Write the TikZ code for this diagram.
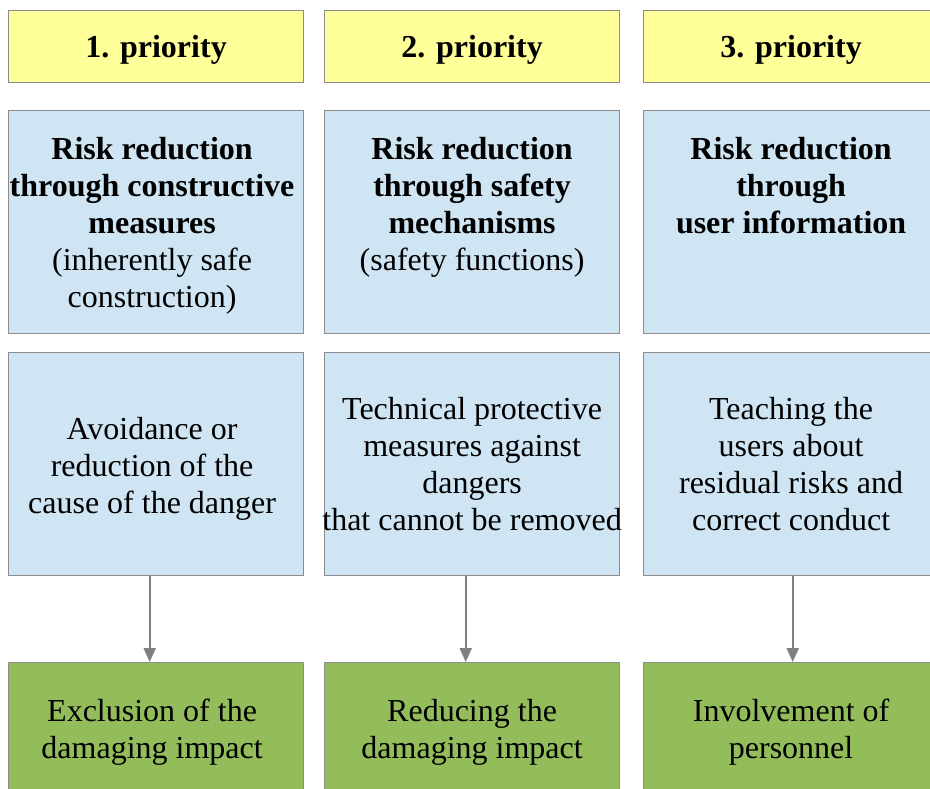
\documentclass[tikz,border=0pt]{standalone}
\usepackage{fontspec}
\setmainfont{Liberation Serif}
\usetikzlibrary{arrows.meta}
\definecolor{yel}{HTML}{FFFF99}
\definecolor{lblue}{HTML}{CFE5F3}
\definecolor{lgreen}{HTML}{93BC5B}
\definecolor{bord}{HTML}{8C8C8C}
\definecolor{arr}{HTML}{808080}
\newcommand\ls{\rule[-0.216em]{0pt}{1.107em}}
\tikzset{
  box/.style={draw=bord, line width=1.2pt, anchor=north west, inner sep=0pt,
    minimum width=295pt, align=center, font=\fontsize{32}{37}\selectfont},
  prio/.style={box, fill=yel, minimum height=72pt, font=\fontsize{32}{37}\selectfont\bfseries},
  risk/.style={box, fill=lblue, minimum height=223pt},
  means/.style={box, fill=lblue, minimum height=223pt},
  result/.style={box, fill=lgreen, minimum height=134pt},
  txt/.style={inner sep=0pt, align=center, font=\fontsize{32}{37}\selectfont},
  link/.style={draw=arr, line width=2pt, -{Triangle[length=14pt,width=12pt]}}
}
\begin{document}
\begin{tikzpicture}[x=1pt,y=-1pt]
\useasboundingbox (0,0) rectangle (930,788);
\clip (0,0) rectangle (930,788);
\fill[white] (0,0) rectangle (930,788);
% priorities
\node[prio] (p1) at (8,10) {\ls 1. priority\ls};
\node[prio] (p2) at (324,10) {\ls 2. priority\ls};
\node[prio] (p3) at (643,10) {\ls 3. priority\ls};
% risk reduction boxes
\node[risk] (r1) at (8,110) {};
\node[risk] (r2) at (324,110) {};
\node[risk] (r3) at (643,110) {};
\node[txt, anchor=north] (t1) at ([xshift=-4pt,yshift=-20.5pt]r1.north) {\ls\textbf{Risk reduction}\\\textbf{through constructive}\\\textbf{measures}\\(inherently safe\\construction)};
\node[txt, anchor=north] (t2) at ([yshift=-20.5pt]r2.north) {\ls\textbf{Risk reduction}\\\textbf{through safety}\\\textbf{mechanisms}\\(safety functions)};
\node[txt, anchor=north] (t3) at ([yshift=-20.5pt]r3.north) {\ls\textbf{Risk reduction}\\\textbf{through}\\\textbf{user information}};
% means
\node[means] (s1) at (8,352) {};
\node[txt] (u1) at ([xshift=-4pt,yshift=-2pt]s1.center) {\ls Avoidance or\\reduction of the\\cause of the danger\ls};
\node[means] (s2) at (324,352) {\ls Technical protective\\measures against\\dangers\\\makebox[280pt]{that cannot be removed}\ls};
\node[means] (s3) at (643,352) {\ls Teaching the\\users about\\residual risks and\\correct conduct\ls};
% results
\node[result] (g1) at (8,662) {};
\node[txt] (h1) at ([xshift=-4pt]g1.center) {\ls Exclusion of the\\damaging impact\ls};
\node[result] (g2) at (324,662) {\ls Reducing the\\damaging impact\ls};
\node[result] (g3) at (643,662) {\ls Involvement of\\personnel\ls};
% arrows
\draw[link] ([xshift=-6.4pt]s1.south) -- ([xshift=-6.4pt]g1.north);
\draw[link] ([xshift=-6.4pt]s2.south) -- ([xshift=-6.4pt]g2.north);
\draw[link] ([xshift=1.6pt]s3.south) -- ([xshift=1.6pt]g3.north);
\end{tikzpicture}
\end{document}
